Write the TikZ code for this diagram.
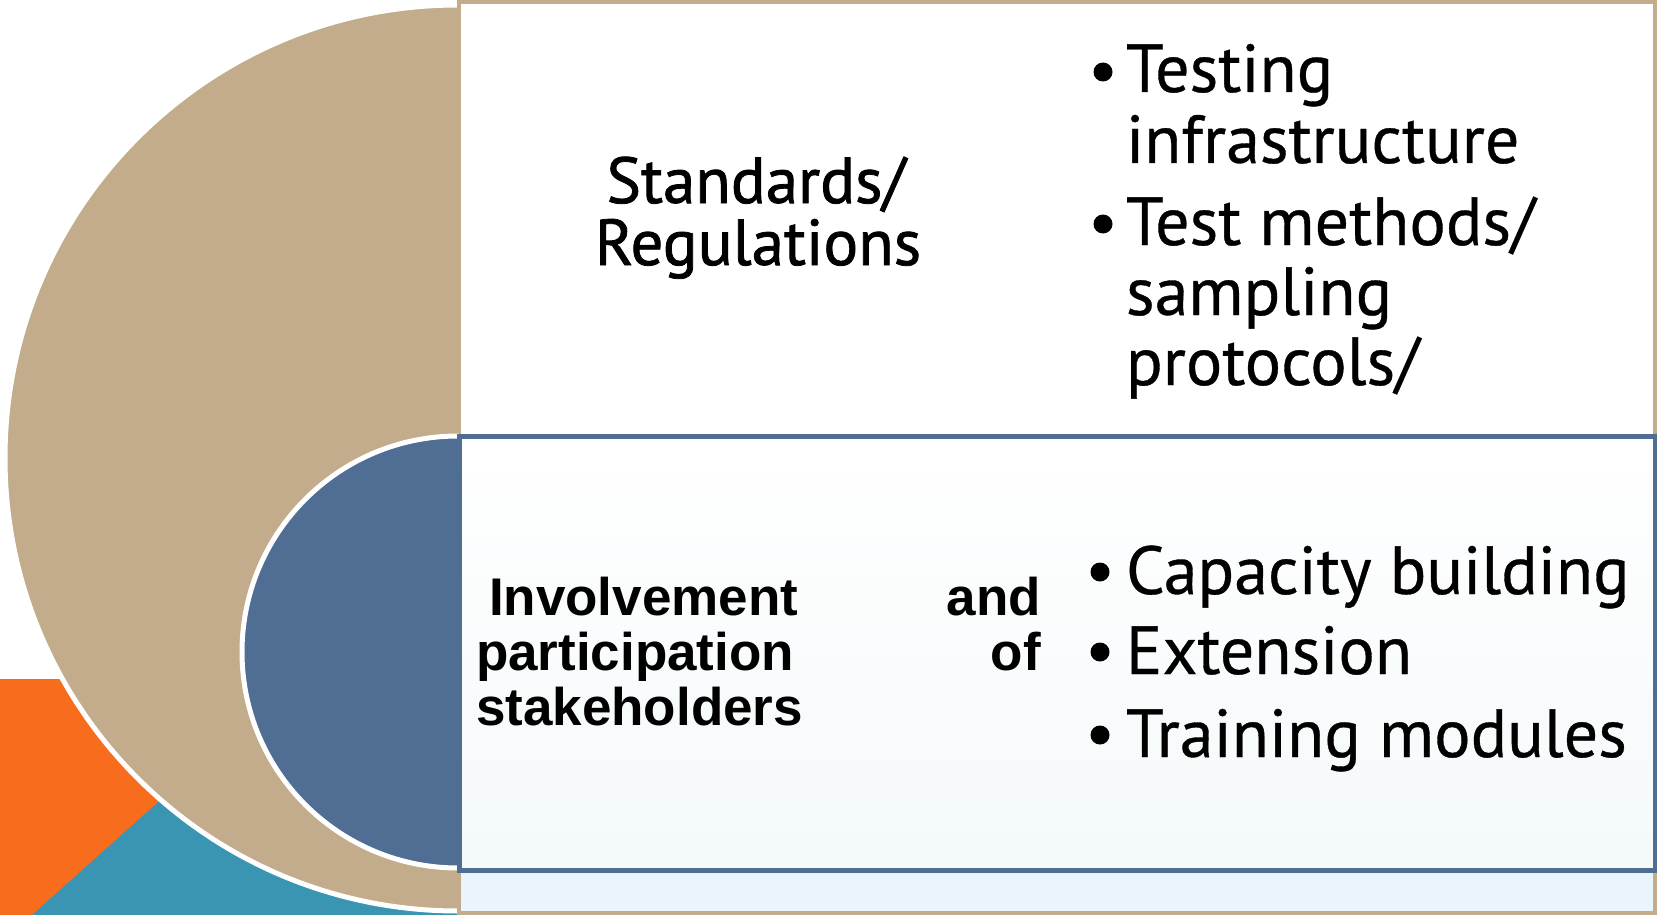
\documentclass[tikz,border=0pt]{standalone}
\usepackage{fontspec}
\setmainfont{PT Sans}
\newfontfamily\hdrfont{PT Sans}[FakeBold=1.2]
\newfontfamily\bulfont{PT Sans}[FakeBold=0.5]
\newfontfamily\arialbold{Liberation Sans}[BoldFont={* Bold}]
\definecolor{tanc}{HTML}{C2AC8B}
\definecolor{bluec}{HTML}{506D93}
\definecolor{orangec}{HTML}{F86C1D}
\definecolor{tealc}{HTML}{3A95B2}
\definecolor{bandc}{HTML}{E9F5FB}
\definecolor{midbot}{HTML}{F4F9FA}
\tikzset{
  txt/.style={inner sep=0pt, outer sep=0pt, text=black},
  bul/.style={txt, font=\bulfont\fontsize{68}{70}\selectfont},
  hdr/.style={txt, font=\hdrfont\fontsize{65}{62}\selectfont},
  inv/.style={txt, font=\arialbold\bfseries\fontsize{53}{55}\selectfont},
  dot/.style={circle, fill=black, minimum size=19pt, inner sep=0pt}
}
\begin{document}
\begin{tikzpicture}[x=1pt,y=-1pt]
\useasboundingbox (0,0) rectangle (1657,915);
% background corner shapes
\fill[orangec] (0,679) rectangle (458,915);
\begin{scope}
  \clip (0,679) rectangle (458,915);
  \fill[tealc] (32,915) -- (470,523) -- (470,915) -- cycle;
\end{scope}
% big tan circle
\fill[tanc, draw=white, line width=5pt] (458,458) circle (453);
% outer box
\draw[tanc, line width=4pt, fill=white] (459,2.5) rectangle (1655,913);
\fill[bandc] (461,872) rectangle (1653,911);
% blue circle
\begin{scope}
  \clip (0,0) rectangle (459,915);
  \fill[bluec, draw=white, line width=5pt] (458,652) circle (216);
\end{scope}
% middle box
\shade[top color=white, bottom color=midbot] (459,436) rectangle (1655,870);
\draw[bluec, line width=5pt] (459,436) rectangle (1655,870);
% header text
\node[hdr, anchor=base] (std1) at (756,203) {Standards/};
\node[hdr, anchor=base] (std2) at (758,265) {Regulations};
% upper bullets
\node[dot] (d1) at (1103,72) {};
\node[bul, anchor=base west] (t1a) at (1126,92) {Testing};
\node[bul, anchor=base west] (t1b) at (1126,163) {infrastructure};
\node[dot] (d2) at (1103,224) {};
\node[bul, anchor=base west] (t2a) at (1126,245) {Test methods/};
\node[bul, anchor=base west] (t2b) at (1126,315) {sampling};
\node[bul, anchor=base west] (t2c) at (1126,385) {protocols/};
% involvement text
\node[inv, anchor=base west] (i1) at (489,615) {Involvement};
\node[inv, anchor=base east] (i2) at (1041,615) {and};
\node[inv, anchor=base west] (i3) at (476,670) {participation};
\node[inv, anchor=base east] (i4) at (1041,670) {of};
\node[inv, anchor=base west] (i5) at (476,725) {stakeholders};
% lower bullets
\node[dot] (d3) at (1100,572) {};
\node[bul, anchor=base west] (c1) at (1126,594) {Capacity building};
\node[dot] (d4) at (1100,652) {};
\node[bul, anchor=base west] (c2) at (1126,674) {Extension};
\node[dot] (d5) at (1100,735) {};
\node[bul, anchor=base west] (c3) at (1126,757) {Training modules};
\end{tikzpicture}
\end{document}
